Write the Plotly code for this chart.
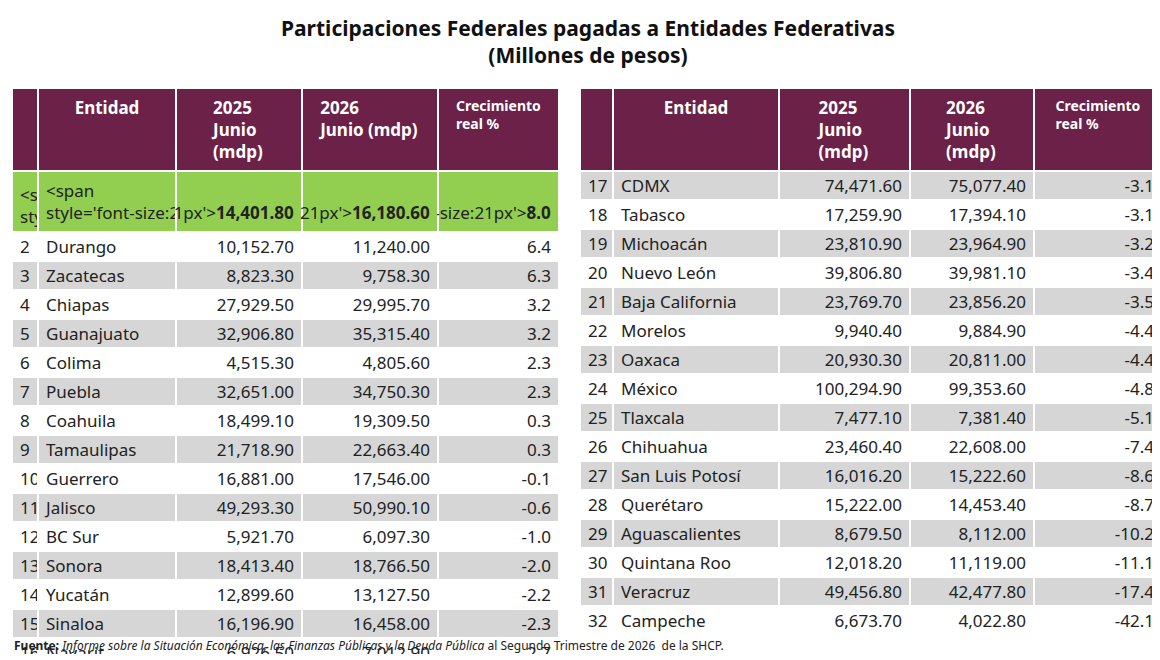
import plotly.graph_objects as go

nums_l = list(range(1, 17))
ent_l = ["Hidalgo","Durango","Zacatecas","Chiapas","Guanajuato","Colima","Puebla","Coahuila","Tamaulipas","Guerrero","Jalisco","BC Sur","Sonora","Yucatán","Sinaloa","Nayarit"]
v25_l = ["14,401.80","10,152.70","8,823.30","27,929.50","32,906.80","4,515.30","32,651.00","18,499.10","21,718.90","16,881.00","49,293.30","5,921.70","18,413.40","12,899.60","16,196.90","6,926.50"]
v26_l = ["16,180.60","11,240.00","9,758.30","29,995.70","35,315.40","4,805.60","34,750.30","19,309.50","22,663.40","17,546.00","50,990.10","6,097.30","18,766.50","13,127.50","16,458.00","7,012.90"]
cr_l = ["8.0","6.4","6.3","3.2","3.2","2.3","2.3","0.3","0.3","-0.1","-0.6","-1.0","-2.0","-2.2","-2.3","-2.7"]

nums_r = list(range(17, 33))
ent_r = ["CDMX","Tabasco","Michoacán","Nuevo León","Baja California","Morelos","Oaxaca","México","Tlaxcala","Chihuahua","San Luis Potosí","Querétaro","Aguascalientes","Quintana Roo","Veracruz","Campeche"]
v25_r = ["74,471.60","17,259.90","23,810.90","39,806.80","23,769.70","9,940.40","20,930.30","100,294.90","7,477.10","23,460.40","16,016.20","15,222.00","8,679.50","12,018.20","49,456.80","6,673.70"]
v26_r = ["75,077.40","17,394.10","23,964.90","39,981.10","23,856.20","9,884.90","20,811.00","99,353.60","7,381.40","22,608.00","15,222.60","14,453.40","8,112.00","11,119.00","42,477.80","4,022.80"]
cr_r = ["-3.1","-3.1","-3.2","-3.4","-3.5","-4.4","-4.4","-4.8","-5.1","-7.4","-8.6","-8.7","-10.2","-11.1","-17.4","-42.1"]

MAROON = "#6b2148"
GREEN = "#92cf50"
GREY = "#d6d6d6"
FONT = "Noto Sans"

def make_table(nums, ent, v25, v26, cr, hdr, widths, x0, x1, first_green):
    n = len(nums)
    fills = []
    for i in range(n):
        if first_green and i == 0:
            fills.append(GREEN)
        else:
            fills.append(GREY if i % 2 == 0 else "white")
    cols = [nums, ent, v25, v26, cr]
    vals = []
    for c in cols:
        col = []
        for i, v in enumerate(c):
            s = str(v)
            if first_green and i == 0:
                s = f"<span style='font-size:21px'><b>{s}</b></span>"
            col.append(s)
        vals.append(col)
    return go.Table(
        domain=dict(x=[x0 / 1160, x1 / 1160], y=[0.02, 1 - 80 / 660]),
        columnwidth=widths,
        header=dict(values=hdr, fill_color=MAROON, line=dict(color="white", width=2),
                    font=dict(family=FONT, color="white", size=[17, 17, 17, 17, 14]),
                    align="center", height=76),
        cells=dict(values=vals, fill_color=[fills] * 5, line=dict(color="white", width=2),
                   font=dict(family=FONT, color="#222", size=17),
                   align=["left", "left", "right", "right", "right"], height=29),
    )

hdr_l = ["", "<b>Entidad</b>", "<b>2025<br>Junio<br>(mdp)</b>", "<b>2026<br>Junio (mdp)</b>", "<b>Crecimiento<br>real %</b>"]
hdr_r = ["", "<b>Entidad</b>", "<b>2025<br>Junio<br>(mdp)</b>", "<b>2026<br>Junio<br>(mdp)</b>", "<b>Crecimiento<br>real %</b>"]

fig = go.Figure()
fig.add_trace(make_table(nums_l, ent_l, v25_l, v26_l, cr_l, hdr_l, [26, 138, 126, 136, 121], 4, 551, True))
fig.add_trace(make_table(nums_r, ent_r, v25_r, v26_r, cr_r, hdr_r, [33, 166, 131, 124, 128], 572, 1154, False))

fig.update_layout(
    width=1160, height=660, margin=dict(l=0, r=0, t=0, b=0),
    paper_bgcolor="white",
    font=dict(family=FONT),
    annotations=[
        dict(text="<b>Participaciones Federales pagadas a Entidades Federativas<br>(Millones de pesos)</b>",
             x=0.5, y=1 - 4 / 660, xref="paper", yref="paper", xanchor="center", yanchor="top",
             showarrow=False, font=dict(size=21, color="#111", family=FONT)),
        dict(text="<b>Fuente:</b> <i>Informe sobre la Situación Económica, las Finanzas Públicas y la Deuda Pública</i> al Segundo Trimestre de 2026  de la SHCP.",
             x=4 / 1160, y=1 - 637 / 660, xref="paper", yref="paper", xanchor="left", yanchor="middle",
             showarrow=False, font=dict(size=12, color="#222", family=FONT)),
    ],
)
fig.write_html("out.html")
